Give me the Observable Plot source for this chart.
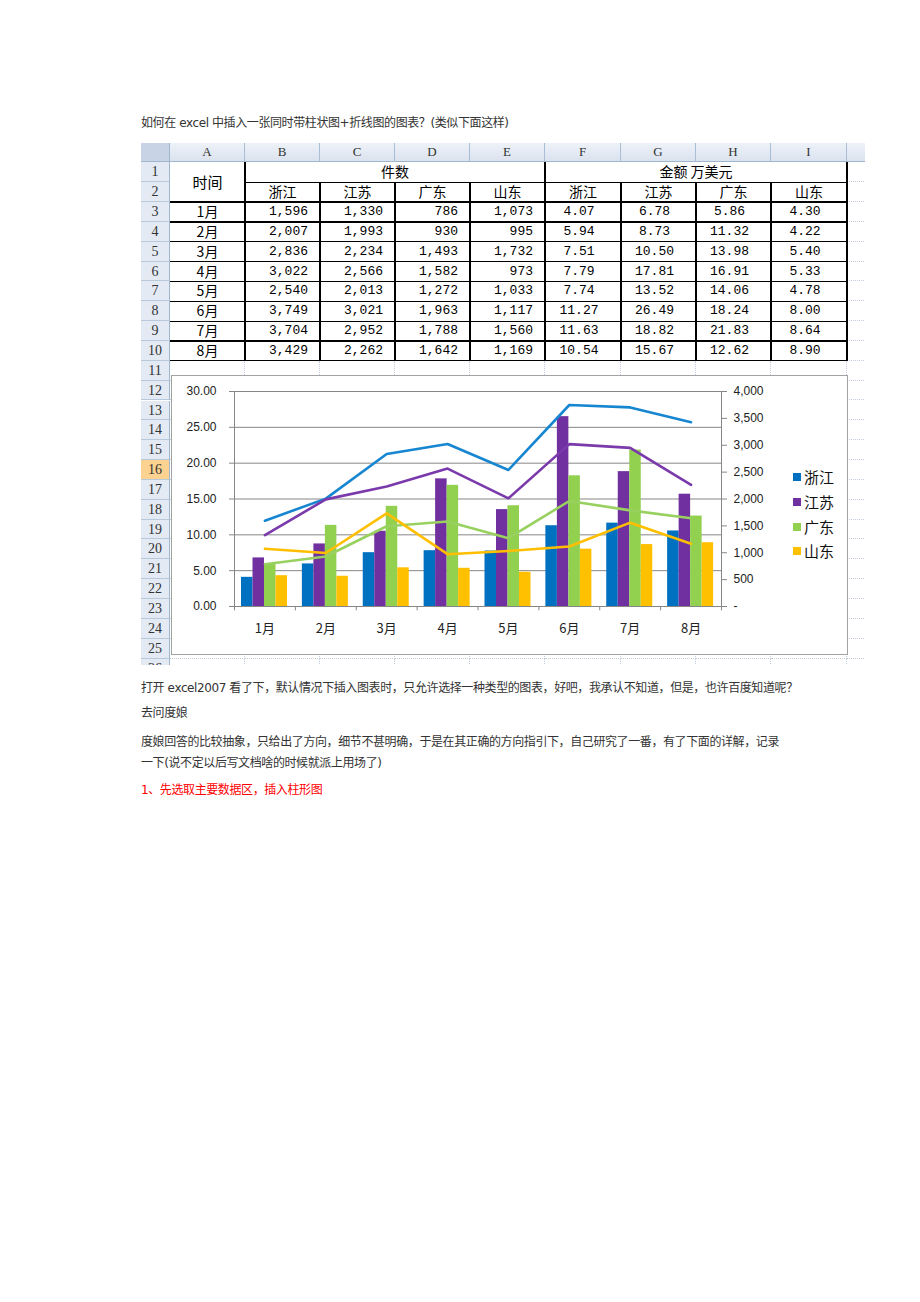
<!DOCTYPE html>
<html><head><meta charset="utf-8">
<script src="https://cdn.jsdelivr.net/npm/d3@7"></script>
<script src="https://cdn.jsdelivr.net/npm/@observablehq/plot@0.6"></script>
<style>
body{margin:0;background:#fff;}
#page{position:relative;width:920px;height:1302px;overflow:hidden;font-family:"DejaVu Sans","Noto Sans CJK SC",sans-serif;background:#fff;}
.p{position:absolute;left:141px;font-size:12px;color:#333;line-height:16px;white-space:nowrap;letter-spacing:-0.4px;}
#sheet{position:absolute;left:141px;top:143px;width:724px;height:522px;overflow:hidden;background:#fff;}
.c{position:absolute;box-sizing:border-box;white-space:nowrap;overflow:hidden;}
</style></head><body><div id="page"></div><script>
// ---------- data ----------
const months = ["1月","2月","3月","4月","5月","6月","7月","8月"];
const provinces = ["浙江","江苏","广东","山东"];
const countZhejiang  = [1596,2007,2836,3022,2540,3749,3704,3429];
const countJiangsu   = [1330,1993,2234,2566,2013,3021,2952,2262];
const countGuangdong = [786,930,1493,1582,1272,1963,1788,1642];
const countShandong  = [1073,995,1732,973,1033,1117,1560,1169];
const amountZhejiang  = [4.07,5.94,7.51,7.79,7.74,11.27,11.63,10.54];
const amountJiangsu   = [6.78,8.73,10.50,17.81,13.52,26.49,18.82,15.67];
const amountGuangdong = [5.86,11.32,13.98,16.91,14.06,18.24,21.83,12.62];
const amountShandong  = [4.30,4.22,5.40,5.33,4.78,8.00,8.64,8.90];
const amountTicks = [0,5,10,15,20,25,30];
const countTicks = [0,500,1000,1500,2000,2500,3000,3500,4000];
const columnLetters = ["A","B","C","D","E","F","G","H","I"];
const headerTime = "时间", headerCount = "件数", headerAmount = "金额 万美元";
const textTop = "如何在 excel 中插入一张同时带柱状图+折线图的图表？(类似下面这样)";
const textBelow = [
  "打开 excel2007 看了下，默认情况下插入图表时，只允许选择一种类型的图表，好吧，我承认不知道，但是，也许百度知道呢？",
  "去问度娘",
  "度娘回答的比较抽象，只给出了方向，细节不甚明确，于是在其正确的方向指引下，自己研究了一番，有了下面的详解，记录",
  "一下(说不定以后写文档啥的时候就派上用场了)"
];
const textRed = "1、先选取主要数据区，插入柱形图";

const counts = [countZhejiang, countJiangsu, countGuangdong, countShandong];
const amounts = [amountZhejiang, amountJiangsu, amountGuangdong, amountShandong];

// ---------- page texts ----------
const page = document.getElementById("page");
function para(text, top, color){
  const d = document.createElement("div"); d.className="p"; d.style.top = top+"px";
  if (color) d.style.color = color;
  d.textContent = text; page.appendChild(d);
}
para(textTop, 115);
const belowTops = [680, 705, 734, 755];
textBelow.forEach((t,i)=>para(t, belowTops[i]));
para(textRed, 782, "#ff0000");

// ---------- spreadsheet ----------
const sheet = document.createElement("div"); sheet.id="sheet"; page.appendChild(sheet);
const colEdges = [0,29,104,179,254,329,404,480,555,630,706,781];
const headH = 19.3, rowH = 19.85;
const rowTop = r => headH + (r-1)*rowH;
function box(l,t,w,h,style,text){
  const d=document.createElement("div"); d.className="c";
  Object.assign(d.style,{left:l+"px",top:t+"px",width:w+"px",height:h+"px"},style||{});
  if(text!=null) d.textContent=text; sheet.appendChild(d); return d;
}
const gridStyle = {borderRight:"1px dotted #c3cddb", borderBottom:"1px dotted #c3cddb"};
for (let r=1; r<=26; r++) for (let c=1; c<=10; c++)
  box(colEdges[c], rowTop(r), colEdges[c+1]-colEdges[c], rowH, gridStyle);
// column header
box(0,0,29,headH,{background:"#c8d4e5",borderRight:"1px solid #9eb6ce",borderBottom:"1px solid #9eb6ce"});
for (let c=1; c<=10; c++){
  box(colEdges[c],0,colEdges[c+1]-colEdges[c],headH,{background:"linear-gradient(#eef2f8,#dbe3ef)",borderRight:"1px solid #a9bdd4",borderBottom:"1px solid #9eb6ce",textAlign:"center",lineHeight:(headH-1)+"px",fontFamily:"Liberation Serif",fontSize:"13px",color:"#333"}, columnLetters[c-1] ?? null);
}
for (let r=1; r<=26; r++){
  box(0,rowTop(r),29,rowH,{background: r===16 ? "#fcd291" : "#e3eaf4",borderRight:"1px solid #9eb6ce",borderBottom:"1px solid #b8c9dc",textAlign:"center",lineHeight:rowH+"px",fontFamily:"Liberation Serif",fontSize:"14px",color:"#333"}, String(r));
}
// table background
box(colEdges[1], rowTop(1), colEdges[10]-colEdges[1], rowTop(11)-rowTop(1), {background:"#fff"});
function cell(c1,c2,r1,r2,text,style){
  return box(colEdges[c1], rowTop(r1), colEdges[c2+1]-colEdges[c1], rowTop(r2+1)-rowTop(r1),
    Object.assign({lineHeight:(rowTop(r2+1)-rowTop(r1))+"px",color:"#000"},style), text);
}
const cjk = {fontFamily:"Noto Sans CJK SC",fontSize:"14px",textAlign:"center"};
cell(1,1,1,2,headerTime,Object.assign({},cjk,{fontSize:"15px"}));
cell(2,5,1,1,headerCount,cjk);
cell(6,9,1,1,headerAmount,cjk);
provinces.forEach((p,i)=>{ cell(2+i,2+i,2,2,p,cjk); cell(6+i,6+i,2,2,p,cjk); });
const fmtCount = d3.format(",");
months.forEach((m,j)=>{
  const r=3+j;
  cell(1,1,r,r,m,cjk);
  provinces.forEach((p,i)=>{
    cell(2+i,2+i,r,r,fmtCount(counts[i][j]),{fontFamily:"Liberation Mono",fontSize:"13px",textAlign:"right",paddingRight:"12px"});
    cell(6+i,6+i,r,r,amounts[i][j].toFixed(2),{fontFamily:"Liberation Mono",fontSize:"13px",textAlign:"center",paddingRight:"8px"});
  });
});
// table borders
function hline(c1,c2,y){ box(colEdges[c1]-0.5, y-0.6, colEdges[c2+1]-colEdges[c1]+1, 1.3, {background:"#000"}); }
function vline(c,r1,r2){ box(colEdges[c]-0.6, rowTop(r1), 1.3, rowTop(r2+1)-rowTop(r1), {background:"#000"}); }
hline(2,9,rowTop(2));
for (let r=3; r<=11; r++) hline(1,9,rowTop(r));
[2,6,10].forEach(c=>vline(c,1,10));
[3,4,5,7,8,9].forEach(c=>vline(c,2,10));

// ---------- chart ----------
const W = 677, H = 280, mL = 63, mR = 127, mT = 16, mB = 49;
const bw = (W - mL - mR) / months.length;
const amountMax = amountTicks[amountTicks.length-1], countMax = countTicks[countTicks.length-1];
const toY = c => c * amountMax / countMax;
const barColors = ["#0070c0","#7030a0","#92d050","#ffc000"];
const lineColors = ["#1786d1","#7b3aab","#98d15f","#ffbf00"];
const axisGray = "#868686";
const gap0 = 7, barW = 11.5;

const rows = provinces.flatMap((p,i)=>months.map((m,j)=>({month:m, province:p, i, amount:amounts[i][j], count:counts[i][j]})));

const chart = Plot.plot({
  width: W, height: H, marginLeft: mL, marginRight: mR, marginTop: mT, marginBottom: mB,
  style: {fontFamily:"Liberation Sans", fontSize:"12px", color:"#222", background:"transparent"},
  x: {type:"band", domain: months, padding: 0, round: false},
  y: {domain: [0, amountMax]},
  marks: [
    Plot.gridY(amountTicks, {stroke: axisGray, strokeOpacity: 1}),
    ...provinces.map((p,i)=>Plot.barY(rows.filter(d=>d.i===i), {
      x:"month", y:"amount", fill: barColors[i],
      insetLeft: gap0 + barW*i, insetRight: bw - gap0 - barW*(i+1)
    })),
    Plot.frame({stroke: axisGray}),
    Plot.ruleX(months, {x: d=>d, dx: -bw/2, y1: 0, y2: -0.6, stroke: axisGray}),
    Plot.ruleX(months.slice(-1), {x: d=>d, dx: bw/2, y1: 0, y2: -0.6, stroke: axisGray}),
    Plot.axisY(amountTicks, {anchor:"left", label: null, tickFormat: d=>d.toFixed(2), tickSize: 5, tickPadding: 13, stroke: axisGray, fill:"#222", fontSize: 12}),
    Plot.axisY(countTicks.map(toY), {anchor:"right", label: null, tickFormat: d=>{const c=Math.round(d*countMax/amountMax); return c===0 ? "-" : fmtCount(c);}, tickSize: 5, tickPadding: 7, stroke: axisGray, fill:"#222", fontSize: 12}),
    Plot.axisX({tickSize: 0, tickPadding: 17, fontSize: 13, fontFamily: "Noto Sans CJK SC", fill:"#222", label: null}),
    ...provinces.map((p,i)=>Plot.line(rows.filter(d=>d.i===i), {x:"month", y: d=>toY(d.count), stroke: lineColors[i], strokeWidth: 2.6})),
  ]
});
chart.style.position = "absolute";
chart.style.left = "171px";
chart.style.top = "375px";
chart.style.background = "#fff";
page.appendChild(chart);
const border = document.createElement("div");
Object.assign(border.style,{position:"absolute",left:"171px",top:"375px",width:W+"px",height:H+"px",border:"1px solid #a3a3a3",boxSizing:"border-box"});
page.appendChild(border);

// legend
const legendTops = [477, 502, 527, 551];
provinces.forEach((p,i)=>{
  const sq = document.createElement("div");
  Object.assign(sq.style,{position:"absolute",left:"793px",top:(legendTops[i]-4)+"px",width:"8px",height:"8px",background:barColors[i]});
  page.appendChild(sq);
  const t = document.createElement("div");
  Object.assign(t.style,{position:"absolute",left:"804px",top:(legendTops[i]-10)+"px",lineHeight:"20px",fontSize:"15px",fontFamily:"Noto Sans CJK SC",color:"#111"});
  t.textContent = p; page.appendChild(t);
});
</script></body></html>
